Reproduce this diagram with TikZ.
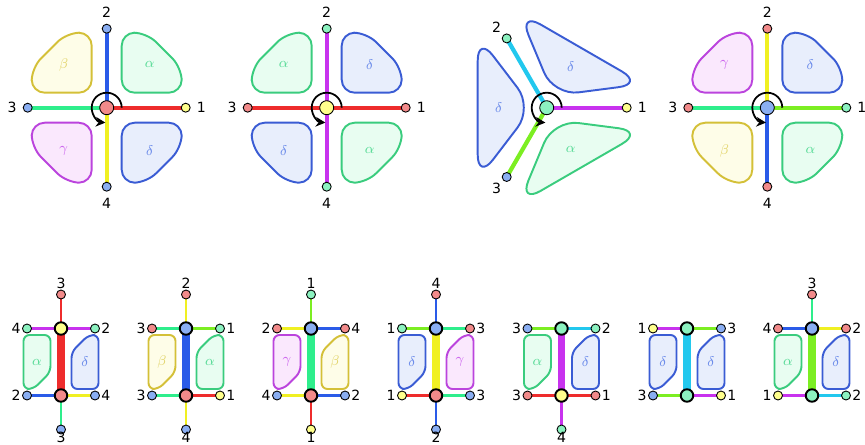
\documentclass[tikz,border=0pt]{standalone}
\usepackage{fontspec}
\setsansfont{DejaVu Sans}
\usetikzlibrary{positioning,arrows.meta,backgrounds}

\definecolor{armred}{HTML}{EE2C2C}
\definecolor{armblue}{HTML}{2A5BE8}
\definecolor{armgreen}{HTML}{2EEE8C}
\definecolor{armyellow}{HTML}{F0F022}
\definecolor{armpurple}{HTML}{C832EE}
\definecolor{armcyan}{HTML}{22C8EE}
\definecolor{armlime}{HTML}{7CEE22}
\definecolor{dotred}{HTML}{F28A8A}
\definecolor{dotblue}{HTML}{8AAEF2}
\definecolor{dotyellow}{HTML}{FFFF8C}
\definecolor{dotmint}{HTML}{8CF2C0}
\definecolor{alphaline}{HTML}{3ACC7E}
\definecolor{alphafill}{HTML}{E8FDF1}
\definecolor{alphatext}{HTML}{5ADB98}
\definecolor{betaline}{HTML}{D4C038}
\definecolor{betafill}{HTML}{FEFDE8}
\definecolor{betatext}{HTML}{E2D46A}
\definecolor{gammaline}{HTML}{BB44DD}
\definecolor{gammafill}{HTML}{FAE8FD}
\definecolor{gammatext}{HTML}{CC66EE}
\definecolor{deltaline}{HTML}{3A5CD4}
\definecolor{deltafill}{HTML}{E8EEFC}
\definecolor{deltatext}{HTML}{6A8AEA}

\tikzset{
  arm/.style={line width=2.4pt},
  link/.style={line width=1.5pt},
  stub/.style={line width=1.2pt},
  bar/.style={line width=4pt},
  hub/.style={circle, draw, line width=0.5pt, minimum size=0.28cm, inner sep=0pt},
  bighub/.style={circle, draw, line width=1.1pt, minimum size=0.25cm, inner sep=0pt},
  dot/.style={circle, draw, line width=0.5pt, minimum size=0.18cm, inner sep=0pt},
  num/.style={font=\sffamily\footnotesize, inner sep=1pt},
  greek/.style={font=\footnotesize, inner sep=0pt},
  turn/.style={line width=1pt, -{Stealth[length=5.5pt,width=5.5pt]}},
  blobA/.style={draw=alphaline, fill=alphafill, line width=1.1pt},
  blobB/.style={draw=betaline, fill=betafill, line width=1.1pt},
  blobG/.style={draw=gammaline, fill=gammafill, line width=1.1pt},
  blobD/.style={draw=deltaline, fill=deltafill, line width=1.1pt},
  petal/.pic={\path[pic actions, rounded corners=0.26cm] (15,15) -- (75,15) -- (75,40) -- (40,75) -- (15,75) -- cycle;},
  wedge/.pic={\path[pic actions, rounded corners=0.5cm] (14,0) -- (69,72) -- (69,-72) -- cycle;},
  slab/.pic={\path[pic actions, rounded corners=0.12cm] (-37.5,27) -- (-10.5,27) -- (-10.5,-10) -- (-27.5,-27) -- (-37.5,-27) -- cycle;}
}

\begin{document}
\begin{tikzpicture}[x=0.02cm, y=0.02cm]
  \useasboundingbox (0,0) rectangle (865,444);
  % first cross
  \begin{scope}[shift={(106.7,336.3)}]
    \pic[blobA] at (0,0) {petal};
    \pic[blobB, xscale=-1] at (0,0) {petal};
    \pic[blobG, scale=-1] at (0,0) {petal};
    \pic[blobD, yscale=-1] at (0,0) {petal};
    \node[greek, text=alphatext] (pa) at (43,43) {$\alpha$};
    \node[greek, text=betatext] (pb) at (-43,43) {$\beta$};
    \node[greek, text=gammatext] (pc) at (-43,-43) {$\gamma$};
    \node[greek, text=deltatext] (pd) at (43,-43) {$\delta$};
    \node[hub, fill=dotred] (p0) at (0,0) {};
    \node[dot, fill=dotyellow] (p1) at (79,0) {};
    \node[dot, fill=dotblue] (p2) at (0,79) {};
    \node[dot, fill=dotblue] (p3) at (-79,0) {};
    \node[dot, fill=dotblue] (p4) at (0,-79) {};
    \node[num, right=2.3pt of p1] (p1l) {1};
    \node[num, above=2.3pt of p2] (p2l) {2};
    \node[num, left=2.3pt of p3] (p3l) {3};
    \node[num, below=2.3pt of p4] (p4l) {4};
    \begin{scope}[on background layer]
      \draw[arm, armred] (p0.center) -- (p1.center);
      \draw[arm, armblue] (p0.center) -- (p2.center);
      \draw[arm, armgreen] (p0.center) -- (p3.center);
      \draw[arm, armyellow] (p0.center) -- (p4.center);
    \end{scope}
    \draw[turn] (p0.center) ++(15,0) arc[start angle=0, end angle=265, radius=15];
  \end{scope}
  % second cross
  \begin{scope}[shift={(326.7,336.3)}]
    \pic[blobD] at (0,0) {petal};
    \pic[blobA, xscale=-1] at (0,0) {petal};
    \pic[blobD, scale=-1] at (0,0) {petal};
    \pic[blobA, yscale=-1] at (0,0) {petal};
    \node[greek, text=deltatext] (qa) at (43,43) {$\delta$};
    \node[greek, text=alphatext] (qb) at (-43,43) {$\alpha$};
    \node[greek, text=deltatext] (qc) at (-43,-43) {$\delta$};
    \node[greek, text=alphatext] (qd) at (43,-43) {$\alpha$};
    \node[hub, fill=dotyellow] (q0) at (0,0) {};
    \node[dot, fill=dotred] (q1) at (79,0) {};
    \node[dot, fill=dotmint] (q2) at (0,79) {};
    \node[dot, fill=dotred] (q3) at (-79,0) {};
    \node[dot, fill=dotmint] (q4) at (0,-79) {};
    \node[num, right=2.3pt of q1] (q1l) {1};
    \node[num, above=2.3pt of q2] (q2l) {2};
    \node[num, left=2.3pt of q3] (q3l) {3};
    \node[num, below=2.3pt of q4] (q4l) {4};
    \begin{scope}[on background layer]
      \draw[arm, armred] (q0.center) -- (q1.center);
      \draw[arm, armpurple] (q0.center) -- (q2.center);
      \draw[arm, armred] (q0.center) -- (q3.center);
      \draw[arm, armpurple] (q0.center) -- (q4.center);
    \end{scope}
    \draw[turn] (q0.center) ++(15,0) arc[start angle=0, end angle=265, radius=15];
  \end{scope}
  % three arms
  \begin{scope}[shift={(546.7,336.3)}]
    \pic[blobD, rotate=60] at (0,0) {wedge};
    \pic[blobD, rotate=180] at (0,0) {wedge};
    \pic[blobA, rotate=300] at (0,0) {wedge};
    \node[greek, text=deltatext] (ra) at (60:48) {$\delta$};
    \node[greek, text=deltatext] (rb) at (180:48) {$\delta$};
    \node[greek, text=alphatext] (rc) at (300:48) {$\alpha$};
    \node[hub, fill=dotmint] (r0) at (0,0) {};
    \node[dot, fill=dotyellow] (r1) at (0:80) {};
    \node[dot, fill=dotmint] (r2) at (120:80) {};
    \node[dot, fill=dotblue] (r3) at (240:80) {};
    \node[num, right=2.3pt of r1] (r1l) {1};
    \node[num, above left=0pt and 0pt of r2] (r2l) {2};
    \node[num, below left=0pt and 0pt of r3] (r3l) {3};
    \begin{scope}[on background layer]
      \draw[arm, armpurple] (r0.center) -- (r1.center);
      \draw[arm, armcyan] (r0.center) -- (r2.center);
      \draw[arm, armlime] (r0.center) -- (r3.center);
    \end{scope}
    \draw[turn] (r0.center) ++(15,0) arc[start angle=0, end angle=265, radius=15];
  \end{scope}
  % fourth cross
  \begin{scope}[shift={(767.3,336.3)}]
    \pic[blobD] at (0,0) {petal};
    \pic[blobG, xscale=-1] at (0,0) {petal};
    \pic[blobB, scale=-1] at (0,0) {petal};
    \pic[blobA, yscale=-1] at (0,0) {petal};
    \node[greek, text=deltatext] (sa) at (43,43) {$\delta$};
    \node[greek, text=gammatext] (sb) at (-43,43) {$\gamma$};
    \node[greek, text=betatext] (sc) at (-43,-43) {$\beta$};
    \node[greek, text=alphatext] (sd) at (43,-43) {$\alpha$};
    \node[hub, fill=dotblue] (s0) at (0,0) {};
    \node[dot, fill=dotmint] (s1) at (79,0) {};
    \node[dot, fill=dotred] (s2) at (0,79) {};
    \node[dot, fill=dotred] (s3) at (-79,0) {};
    \node[dot, fill=dotred] (s4) at (0,-79) {};
    \node[num, right=2.3pt of s1] (s1l) {1};
    \node[num, above=2.3pt of s2] (s2l) {2};
    \node[num, left=2.3pt of s3] (s3l) {3};
    \node[num, below=2.3pt of s4] (s4l) {4};
    \begin{scope}[on background layer]
      \draw[arm, armlime] (s0.center) -- (s1.center);
      \draw[arm, armyellow] (s0.center) -- (s2.center);
      \draw[arm, armgreen] (s0.center) -- (s3.center);
      \draw[arm, armblue] (s0.center) -- (s4.center);
    \end{scope}
    \draw[turn] (s0.center) ++(15,0) arc[start angle=0, end angle=265, radius=15];
  \end{scope}

  % ladder A
  \begin{scope}[shift={(61,82)}]
    \pic[blobA] at (0,0) {slab};
    \pic[blobD, rotate=180] at (0,0) {slab};
    \node[greek, text=alphatext] (Aga) at (-24,0) {$\alpha$};
    \node[greek, text=deltatext] (Agb) at (24,0) {$\delta$};
    \node[bighub, fill=dotyellow] (At) at (0,33.5) {};
    \node[bighub, fill=dotred] (Ab) at (0,-33.5) {};
    \node[dot, fill=dotred] (An) at (0,67.5) {};
    \node[dot, fill=dotblue] (As) at (0,-67.5) {};
    \node[dot, fill=dotmint] (Atw) at (-34,33.5) {};
    \node[dot, fill=dotmint] (Ate) at (34,33.5) {};
    \node[dot, fill=dotblue] (Abw) at (-34,-33.5) {};
    \node[dot, fill=dotblue] (Abe) at (34,-33.5) {};
    \node[num, above=-0.5pt of An] (Anl) {3};
    \node[num, below=-2.3pt of As] (Asl) {3};
    \node[num, left=-0.4pt of Atw] (Atwl) {4};
    \node[num, right=-0.4pt of Ate] (Atel) {2};
    \node[num, left=-0.4pt of Abw] (Abwl) {2};
    \node[num, right=-0.4pt of Abe] (Abel) {4};
    \begin{scope}[on background layer]
      \draw[bar, armred] (At.center) -- (Ab.center);
      \draw[stub, armred] (At.center) -- (An.center);
      \draw[stub, armgreen] (Ab.center) -- (As.center);
      \draw[link, armpurple] (At.center) -- (Atw.center);
      \draw[link, armpurple] (At.center) -- (Ate.center);
      \draw[link, armblue] (Ab.center) -- (Abw.center);
      \draw[link, armyellow] (Ab.center) -- (Abe.center);
    \end{scope}
  \end{scope}
  % ladder B
  \begin{scope}[shift={(186,82)}]
    \pic[blobB] at (0,0) {slab};
    \pic[blobA, rotate=180] at (0,0) {slab};
    \node[greek, text=betatext] (Bga) at (-24,0) {$\beta$};
    \node[greek, text=alphatext] (Bgb) at (24,0) {$\alpha$};
    \node[bighub, fill=dotblue] (Bt) at (0,33.5) {};
    \node[bighub, fill=dotred] (Bb) at (0,-33.5) {};
    \node[dot, fill=dotred] (Bn) at (0,67.5) {};
    \node[dot, fill=dotblue] (Bs) at (0,-67.5) {};
    \node[dot, fill=dotred] (Btw) at (-34,33.5) {};
    \node[dot, fill=dotmint] (Bte) at (34,33.5) {};
    \node[dot, fill=dotblue] (Bbw) at (-34,-33.5) {};
    \node[dot, fill=dotyellow] (Bbe) at (34,-33.5) {};
    \node[num, above=-0.5pt of Bn] (Bnl) {2};
    \node[num, below=-2.3pt of Bs] (Bsl) {4};
    \node[num, left=-0.4pt of Btw] (Btwl) {3};
    \node[num, right=-0.4pt of Bte] (Btel) {1};
    \node[num, left=-0.4pt of Bbw] (Bbwl) {3};
    \node[num, right=-0.4pt of Bbe] (Bbel) {1};
    \begin{scope}[on background layer]
      \draw[bar, armblue] (Bt.center) -- (Bb.center);
      \draw[stub, armyellow] (Bt.center) -- (Bn.center);
      \draw[stub, armyellow] (Bb.center) -- (Bs.center);
      \draw[link, armgreen] (Bt.center) -- (Btw.center);
      \draw[link, armlime] (Bt.center) -- (Bte.center);
      \draw[link, armgreen] (Bb.center) -- (Bbw.center);
      \draw[link, armred] (Bb.center) -- (Bbe.center);
    \end{scope}
  \end{scope}
  % ladder C
  \begin{scope}[shift={(311,82)}]
    \pic[blobG] at (0,0) {slab};
    \pic[blobB, rotate=180] at (0,0) {slab};
    \node[greek, text=gammatext] (Cga) at (-24,0) {$\gamma$};
    \node[greek, text=betatext] (Cgb) at (24,0) {$\beta$};
    \node[bighub, fill=dotblue] (Ct) at (0,33.5) {};
    \node[bighub, fill=dotred] (Cb) at (0,-33.5) {};
    \node[dot, fill=dotmint] (Cn) at (0,67.5) {};
    \node[dot, fill=dotyellow] (Cs) at (0,-67.5) {};
    \node[dot, fill=dotred] (Ctw) at (-34,33.5) {};
    \node[dot, fill=dotred] (Cte) at (34,33.5) {};
    \node[dot, fill=dotblue] (Cbw) at (-34,-33.5) {};
    \node[dot, fill=dotblue] (Cbe) at (34,-33.5) {};
    \node[num, above=-0.5pt of Cn] (Cnl) {1};
    \node[num, below=-2.3pt of Cs] (Csl) {1};
    \node[num, left=-0.4pt of Ctw] (Ctwl) {2};
    \node[num, right=-0.4pt of Cte] (Ctel) {4};
    \node[num, left=-0.4pt of Cbw] (Cbwl) {4};
    \node[num, right=-0.4pt of Cbe] (Cbel) {2};
    \begin{scope}[on background layer]
      \draw[bar, armgreen] (Ct.center) -- (Cb.center);
      \draw[stub, armlime] (Ct.center) -- (Cn.center);
      \draw[stub, armred] (Cb.center) -- (Cs.center);
      \draw[link, armyellow] (Ct.center) -- (Ctw.center);
      \draw[link, armblue] (Ct.center) -- (Cte.center);
      \draw[link, armyellow] (Cb.center) -- (Cbw.center);
      \draw[link, armblue] (Cb.center) -- (Cbe.center);
    \end{scope}
  \end{scope}
  % ladder D
  \begin{scope}[shift={(436,82)}]
    \pic[blobD] at (0,0) {slab};
    \pic[blobG, rotate=180] at (0,0) {slab};
    \node[greek, text=deltatext] (Dga) at (-24,0) {$\delta$};
    \node[greek, text=gammatext] (Dgb) at (24,0) {$\gamma$};
    \node[bighub, fill=dotblue] (Dt) at (0,33.5) {};
    \node[bighub, fill=dotred] (Db) at (0,-33.5) {};
    \node[dot, fill=dotred] (Dn) at (0,67.5) {};
    \node[dot, fill=dotblue] (Ds) at (0,-67.5) {};
    \node[dot, fill=dotmint] (Dtw) at (-34,33.5) {};
    \node[dot, fill=dotred] (Dte) at (34,33.5) {};
    \node[dot, fill=dotyellow] (Dbw) at (-34,-33.5) {};
    \node[dot, fill=dotblue] (Dbe) at (34,-33.5) {};
    \node[num, above=-0.5pt of Dn] (Dnl) {4};
    \node[num, below=-2.3pt of Ds] (Dsl) {2};
    \node[num, left=-0.4pt of Dtw] (Dtwl) {1};
    \node[num, right=-0.4pt of Dte] (Dtel) {3};
    \node[num, left=-0.4pt of Dbw] (Dbwl) {1};
    \node[num, right=-0.4pt of Dbe] (Dbel) {3};
    \begin{scope}[on background layer]
      \draw[bar, armyellow] (Dt.center) -- (Db.center);
      \draw[stub, armblue] (Dt.center) -- (Dn.center);
      \draw[stub, armblue] (Db.center) -- (Ds.center);
      \draw[link, armlime] (Dt.center) -- (Dtw.center);
      \draw[link, armgreen] (Dt.center) -- (Dte.center);
      \draw[link, armred] (Db.center) -- (Dbw.center);
      \draw[link, armgreen] (Db.center) -- (Dbe.center);
    \end{scope}
  \end{scope}
  % ladder E
  \begin{scope}[shift={(561.5,82)}]
    \pic[blobA] at (0,0) {slab};
    \pic[blobD, rotate=180] at (0,0) {slab};
    \node[greek, text=alphatext] (Ega) at (-24,0) {$\alpha$};
    \node[greek, text=deltatext] (Egb) at (24,0) {$\delta$};
    \node[bighub, fill=dotmint] (Et) at (0,33.5) {};
    \node[bighub, fill=dotyellow] (Eb) at (0,-33.5) {};
    \node[dot, fill=dotmint] (Es) at (0,-67.5) {};
    \node[dot, fill=dotblue] (Etw) at (-34,33.5) {};
    \node[dot, fill=dotmint] (Ete) at (34,33.5) {};
    \node[dot, fill=dotred] (Ebw) at (-34,-33.5) {};
    \node[dot, fill=dotred] (Ebe) at (34,-33.5) {};
    \node[num, below=-2.3pt of Es] (Esl) {4};
    \node[num, left=-0.4pt of Etw] (Etwl) {3};
    \node[num, right=-0.4pt of Ete] (Etel) {2};
    \node[num, left=-0.4pt of Ebw] (Ebwl) {3};
    \node[num, right=-0.4pt of Ebe] (Ebel) {1};
    \begin{scope}[on background layer]
      \draw[bar, armpurple] (Et.center) -- (Eb.center);
      \draw[stub, armpurple] (Eb.center) -- (Es.center);
      \draw[link, armlime] (Et.center) -- (Etw.center);
      \draw[link, armcyan] (Et.center) -- (Ete.center);
      \draw[link, armred] (Eb.center) -- (Ebw.center);
      \draw[link, armred] (Eb.center) -- (Ebe.center);
    \end{scope}
  \end{scope}
  % ladder F
  \begin{scope}[shift={(687,82)}]
    \pic[blobD] at (0,0) {slab};
    \pic[blobD, rotate=180] at (0,0) {slab};
    \node[greek, text=deltatext] (Fga) at (-24,0) {$\delta$};
    \node[greek, text=deltatext] (Fgb) at (24,0) {$\delta$};
    \node[bighub, fill=dotmint] (Ft) at (0,33.5) {};
    \node[bighub, fill=dotmint] (Fb) at (0,-33.5) {};
    \node[dot, fill=dotyellow] (Ftw) at (-34,33.5) {};
    \node[dot, fill=dotblue] (Fte) at (34,33.5) {};
    \node[dot, fill=dotblue] (Fbw) at (-34,-33.5) {};
    \node[dot, fill=dotyellow] (Fbe) at (34,-33.5) {};
    \node[num, left=-0.4pt of Ftw] (Ftwl) {1};
    \node[num, right=-0.4pt of Fte] (Ftel) {3};
    \node[num, left=-0.4pt of Fbw] (Fbwl) {3};
    \node[num, right=-0.4pt of Fbe] (Fbel) {1};
    \begin{scope}[on background layer]
      \draw[bar, armcyan] (Ft.center) -- (Fb.center);
      \draw[link, armpurple] (Ft.center) -- (Ftw.center);
      \draw[link, armlime] (Ft.center) -- (Fte.center);
      \draw[link, armlime] (Fb.center) -- (Fbw.center);
      \draw[link, armpurple] (Fb.center) -- (Fbe.center);
    \end{scope}
  \end{scope}
  % ladder G
  \begin{scope}[shift={(812,82)}]
    \pic[blobA] at (0,0) {slab};
    \pic[blobD, rotate=180] at (0,0) {slab};
    \node[greek, text=alphatext] (Gga) at (-24,0) {$\alpha$};
    \node[greek, text=deltatext] (Ggb) at (24,0) {$\delta$};
    \node[bighub, fill=dotblue] (Gt) at (0,33.5) {};
    \node[bighub, fill=dotmint] (Gb) at (0,-33.5) {};
    \node[dot, fill=dotred] (Gn) at (0,67.5) {};
    \node[dot, fill=dotred] (Gtw) at (-34,33.5) {};
    \node[dot, fill=dotred] (Gte) at (34,33.5) {};
    \node[dot, fill=dotyellow] (Gbw) at (-34,-33.5) {};
    \node[dot, fill=dotmint] (Gbe) at (34,-33.5) {};
    \node[num, above=-0.5pt of Gn] (Gnl) {3};
    \node[num, left=-0.4pt of Gtw] (Gtwl) {4};
    \node[num, right=-0.4pt of Gte] (Gtel) {2};
    \node[num, left=-0.4pt of Gbw] (Gbwl) {1};
    \node[num, right=-0.4pt of Gbe] (Gbel) {2};
    \begin{scope}[on background layer]
      \draw[bar, armlime] (Gt.center) -- (Gb.center);
      \draw[stub, armgreen] (Gt.center) -- (Gn.center);
      \draw[link, armblue] (Gt.center) -- (Gtw.center);
      \draw[link, armyellow] (Gt.center) -- (Gte.center);
      \draw[link, armpurple] (Gb.center) -- (Gbw.center);
      \draw[link, armcyan] (Gb.center) -- (Gbe.center);
    \end{scope}
  \end{scope}
\end{tikzpicture}
\end{document}
